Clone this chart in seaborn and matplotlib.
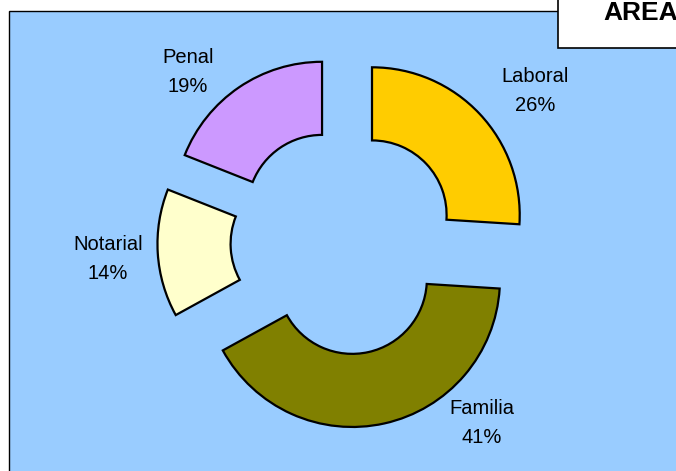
"""Donut chart of cases by area (exploded ring)."""
import matplotlib

matplotlib.use("Agg")
import matplotlib.pyplot as plt
import seaborn as sns
from matplotlib.patches import Rectangle

areas = ["Laboral", "Familia", "Notarial", "Penal"]
shares = [26, 41, 14, 19]
colors = ["#FFCC00", "#808000", "#FFFFCC", "#CC99FF"]
title = "AREAS"

W, H = 676, 471
BG = "#99CCFF"

sns.set_theme(style="white")
plt.rcParams["font.family"] = ["Liberation Sans", "DejaVu Sans"]


def img_y(y):
    # picture rows run downwards, axes y runs upwards
    return H - y


fig = plt.figure(figsize=(W / 100, H / 100), dpi=100)
ax = fig.add_axes([0, 0, 1, 1])

# plot area frame
ax.add_patch(Rectangle((9, img_y(480)), 700, 480 - 11, facecolor=BG,
                       edgecolor="black", linewidth=1.0, zorder=0))

radius = 147.7
wedges, _ = ax.pie(
    shares,
    colors=colors,
    startangle=90,
    counterclock=False,
    radius=radius,
    center=(343.8, img_y(241.5)),
    explode=[38.7] * len(shares),
    wedgeprops=dict(width=radius * 0.495, edgecolor="black", linewidth=1.6),
    frame=True,
)

# label spots (picture pixels)
label_xy = [(535, 91), (482, 423), (108, 259), (188, 72)]
for name, pct, (lx, ly) in zip(areas, shares, label_xy):
    ax.text(lx, img_y(ly), f"{name}\n{pct}%", ha="center", va="center",
            fontsize=14.5, linespacing=1.62, color="black", zorder=5)

# title box, cut by the picture edge
ax.add_patch(Rectangle((558, img_y(48)), 200, 80, facecolor="white",
                       edgecolor="black", linewidth=1.2, zorder=6))
ax.text(603, img_y(20), title, ha="left", va="baseline", fontsize=19,
        fontweight="bold", color="black", zorder=7)

ax.set_xlim(0, W)
ax.set_ylim(0, H)
ax.set_aspect("auto")
ax.axis("off")

fig.savefig("out.png", dpi=100, facecolor="white")
